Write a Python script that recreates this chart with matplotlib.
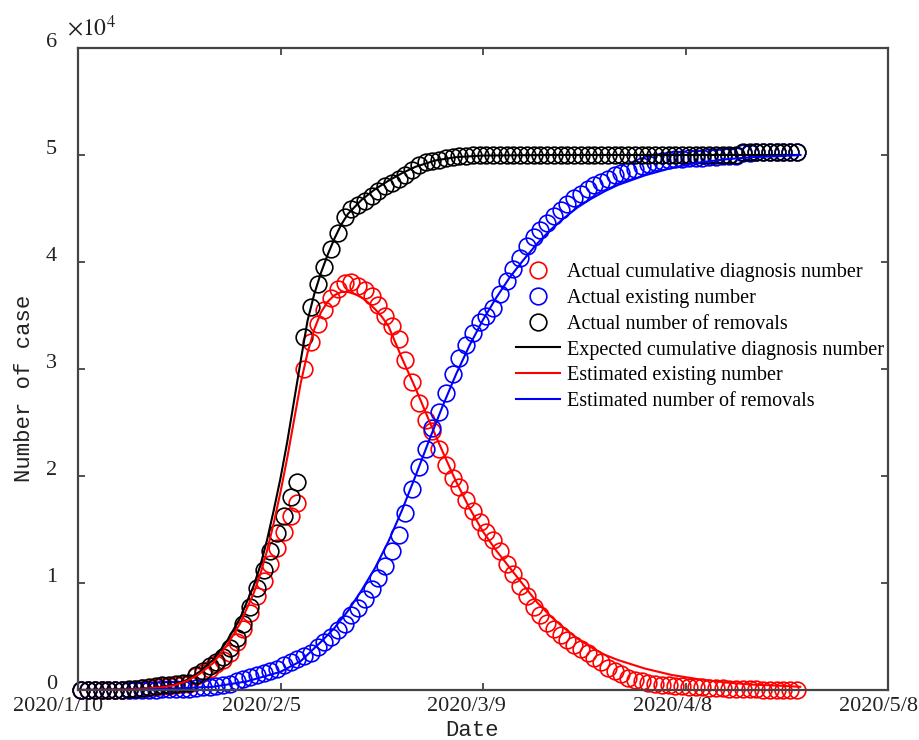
import numpy as np
import matplotlib
matplotlib.use("Agg")
import matplotlib.pyplot as plt
import matplotlib.transforms as mtrans

# actual data, values in units of 1e4 cases, one marker per day
cum_actual = [0.004, 0.004, 0.004, 0.004, 0.004, 0.004,
              0.0045, 0.006, 0.012, 0.02, 0.026, 0.036, 0.043, 0.05, 0.057, 0.062, 0.07,
              0.14, 0.18, 0.22, 0.26, 0.31, 0.39, 0.49, 0.62, 0.78, 0.95, 1.12, 1.30, 1.47, 1.63, 1.80, 1.94,
              3.30, 3.58, 3.79, 3.95, 4.12, 4.27, 4.42, 4.50, 4.53, 4.57, 4.62, 4.66, 4.71, 4.74, 4.78,
              4.81, 4.86, 4.91, 4.93, 4.94, 4.95, 4.97, 4.98, 4.99, 4.99,
              5.00, 5.00, 5.00, 5.00, 5.00, 5.00, 5.00, 5.00, 5.00, 5.00,
              5.00, 5.00, 5.00, 5.00, 5.00, 5.00, 5.00, 5.00, 5.00, 5.00,
              5.00, 5.00, 5.00, 5.00, 5.00, 5.00, 5.00, 5.00, 5.00, 5.00,
              5.00, 5.00, 5.00, 5.00, 5.00, 5.00, 5.00, 5.00, 5.00, 5.00,
              5.03, 5.03, 5.03, 5.03, 5.03, 5.03, 5.03, 5.03, 5.03]
exist_actual = [0.003, 0.003, 0.003, 0.003, 0.003, 0.003,
                0.003, 0.004, 0.01, 0.017, 0.022, 0.03, 0.036, 0.042, 0.048, 0.052, 0.058,
                0.13, 0.16, 0.20, 0.24, 0.28, 0.35, 0.45, 0.57, 0.72, 0.88, 1.02, 1.18, 1.33, 1.48, 1.63, 1.75,
                3.00, 3.25, 3.42, 3.55, 3.66, 3.75, 3.80, 3.81, 3.78, 3.74, 3.68, 3.60, 3.50, 3.40, 3.28,
                3.08, 2.88, 2.68, 2.52, 2.42, 2.25, 2.10, 1.98, 1.90, 1.78,
                1.67, 1.57, 1.48, 1.40, 1.30, 1.18, 1.08, 0.97, 0.88, 0.78,
                0.70, 0.63, 0.57, 0.51, 0.47, 0.42, 0.38, 0.35, 0.30, 0.26,
                0.21, 0.18, 0.15, 0.11, 0.09, 0.08, 0.07, 0.06, 0.05, 0.045,
                0.04, 0.035, 0.03, 0.028, 0.025, 0.02, 0.018, 0.015, 0.012, 0.01,
                0.008, 0.006, 0.005, 0.004, 0.003, 0.002, 0.001, 0.0005, 0.0]
removed_actual = [0.0, 0.0, 0.0, 0.0, 0.0, 0.0, 0.001, 0.001, 0.001, 0.002,
                  0.003, 0.004, 0.006, 0.008, 0.01, 0.012, 0.014, 0.02, 0.025, 0.03, 0.04, 0.05,
                  0.06, 0.08, 0.10, 0.12, 0.14, 0.16, 0.18, 0.20, 0.23, 0.26, 0.29,
                  0.32, 0.35, 0.40, 0.45, 0.50, 0.56, 0.62, 0.70, 0.77, 0.85, 0.94, 1.05, 1.16,
                  1.30, 1.45, 1.65, 1.88, 2.08, 2.25, 2.45, 2.60, 2.78, 2.95, 3.10, 3.22,
                  3.34, 3.44, 3.50, 3.57, 3.70, 3.82, 3.93, 4.04, 4.15, 4.23,
                  4.30, 4.36, 4.43, 4.49, 4.54, 4.60, 4.64, 4.68, 4.72, 4.75,
                  4.78, 4.81, 4.83, 4.85, 4.87, 4.90, 4.92, 4.93, 4.94, 4.95,
                  4.96, 4.96, 4.97, 4.97, 4.97, 4.98, 4.98, 4.99, 4.99, 4.99,
                  5.02, 5.02, 5.03, 5.03, 5.03, 5.03, 5.03, 5.03, 5.03]

# model curves
cum_fit_x = [0, 4, 8, 10, 12, 14, 16, 18, 20, 22, 24, 26, 27, 28, 29, 30, 31, 32, 33, 34, 35, 36, 37, 38,
             39, 40, 42, 44, 46, 48, 50, 53, 56, 60, 70, 80, 90, 100, 107]
cum_fit = [0.0, 0.002, 0.008, 0.015, 0.025, 0.045, 0.09, 0.17, 0.28, 0.45, 0.67, 0.97, 1.16, 1.40, 1.68,
           1.98, 2.32, 2.70, 3.08, 3.45, 3.70, 3.90, 4.07, 4.22, 4.35, 4.45, 4.58, 4.68, 4.76, 4.83, 4.89,
           4.95, 4.98, 4.995, 5.0, 5.0, 5.0, 5.0, 5.0]
exist_fit_x = [0, 4, 8, 10, 12, 14, 16, 18, 20, 22, 24, 26, 27, 28, 29, 30, 31, 32, 33, 34, 35, 36, 37, 38,
               39, 40, 41, 42, 43, 44, 45, 46, 48, 50, 52, 54, 56, 58, 60, 62, 64, 66, 68, 70, 72, 74,
               76, 78, 80, 84, 88, 92, 96, 100, 104, 107]
exist_fit = [0.0, 0.002, 0.007, 0.013, 0.022, 0.04, 0.08, 0.15, 0.25, 0.41, 0.62, 0.90, 1.08, 1.30, 1.56,
             1.85, 2.17, 2.52, 2.87, 3.15, 3.37, 3.53, 3.63, 3.69, 3.72, 3.72, 3.70, 3.67, 3.62, 3.56,
             3.49, 3.40, 3.10, 2.82, 2.52, 2.23, 1.95, 1.70, 1.48, 1.30, 1.14, 0.98, 0.82, 0.69, 0.58,
             0.48, 0.40, 0.33, 0.28, 0.20, 0.14, 0.10, 0.07, 0.05, 0.04, 0.03]
removed_fit_x = [0, 10, 20, 25, 30, 33, 36, 38, 40, 42, 44, 46, 48, 50, 52, 54, 56, 58, 60, 62, 64, 66,
                 68, 70, 72, 74, 76, 78, 80, 84, 88, 92, 96, 100, 104, 107]
removed_fit = [0.0, 0.003, 0.03, 0.08, 0.17, 0.27, 0.45, 0.58, 0.74, 0.93, 1.14, 1.39, 1.68, 2.0, 2.33,
               2.65, 2.95, 3.22, 3.46, 3.67, 3.86, 4.02, 4.17, 4.30, 4.41, 4.51, 4.59, 4.66, 4.72, 4.81,
               4.88, 4.93, 4.96, 4.98, 4.99, 5.0]

tick_pos = [0, 30, 60, 90, 120]
tick_labels = ['2020/1/10', '2020/2/5', '2020/3/9', '2020/4/8', '2020/5/8']

days = np.arange(len(cum_actual)) + 0.5

serif = 'Liberation Serif'
mono = 'Liberation Mono'
plt.rcParams['mathtext.fontset'] = 'stix'

fig = plt.figure(figsize=(9.19, 7.40), dpi=100)
ax = fig.add_axes([78/919, 1-690/740, 810/919, 642/740])

ms = 12
mew = 1.2
ax.plot(days, exist_actual, 'o', mfc='none', mec='red', ms=ms, mew=mew, clip_on=False,
        label='Actual cumulative diagnosis number')
ax.plot(days, removed_actual, 'o', mfc='none', mec='blue', ms=ms, mew=mew, clip_on=False,
        label='Actual existing number')
ax.plot(days, cum_actual, 'o', mfc='none', mec='black', ms=ms, mew=mew, clip_on=False,
        label='Actual number of removals')
ax.plot(cum_fit_x, cum_fit, '-', color='black', lw=1.5, label='Expected cumulative diagnosis number')
ax.plot(exist_fit_x, exist_fit, '-', color='red', lw=1.5, label='Estimated existing number')
ax.plot(removed_fit_x, removed_fit, '-', color='blue', lw=1.5, label='Estimated number of removals')

ax.set_xlim(0, 120)
ax.set_ylim(0, 6)
ax.set_xticks(tick_pos)
ax.set_xticklabels(tick_labels, fontfamily=serif, fontsize=16)
ax.set_yticks(range(7))
ax.set_yticklabels([str(v) for v in range(7)], fontfamily=serif, fontsize=16)
ax.tick_params(direction='in', length=5, width=1.2, top=True, right=True, colors='#333333',
               labelcolor='#222222')
ax.tick_params(axis='y', pad=15)
ax.tick_params(axis='x', pad=5)

# tick labels sit a little off their ticks in the original
x_shift = [-20, -19, -17, -13, -10]
for lab, dx in zip(ax.get_xticklabels(), x_shift):
    lab.set_transform(lab.get_transform() + mtrans.ScaledTranslation(dx/100, 0, fig.dpi_scale_trans))
for lab in ax.get_yticklabels():
    lab.set_transform(lab.get_transform() + mtrans.ScaledTranslation(0, 8/100, fig.dpi_scale_trans))

for s in ax.spines.values():
    s.set_color('#444444')
    s.set_linewidth(1.6)

ax.set_xlabel('Date', fontfamily=mono, fontsize=16, color='#222222')
ax.set_ylabel('Number of case', fontfamily=mono, fontsize=16, color='#222222')
ax.xaxis.set_label_coords(0.486, -0.047)
ax.yaxis.set_label_coords(-0.053, 0.47)

fig.text(67/919, 1-28/740, r'$\times10^{4}$', fontsize=17, color='#222222', va='center')

leg = ax.legend(loc='upper left', bbox_to_anchor=(0.536, 0.672), frameon=False,
                prop={'family': serif, 'size': 14.5}, handlelength=2.2, handletextpad=0.3,
                labelspacing=0.34, borderpad=0.2, borderaxespad=0)

fig.savefig('out.png', dpi=100)
